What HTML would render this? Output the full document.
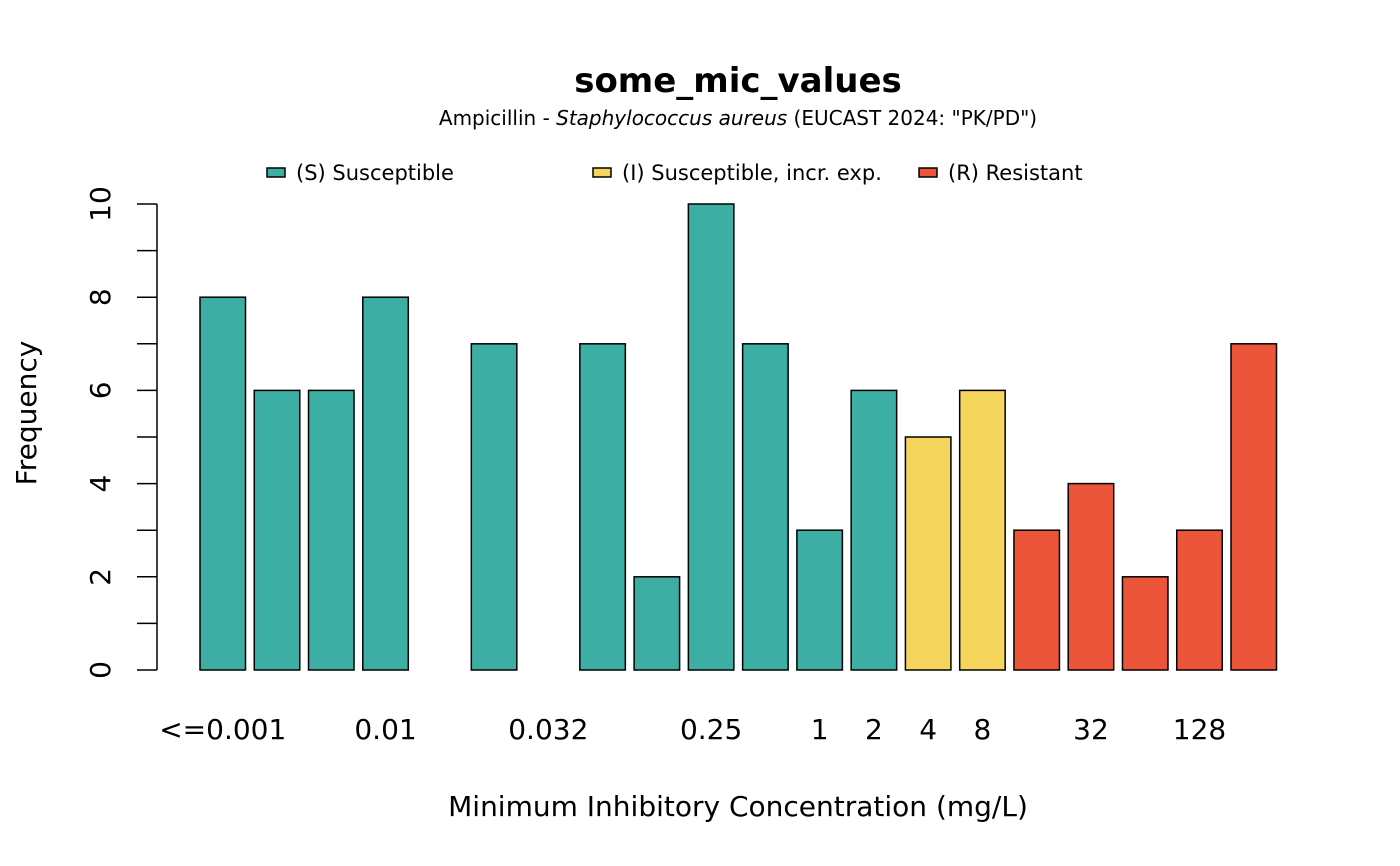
<!DOCTYPE html>
<html><head><meta charset="utf-8"><style>
body{margin:0;background:#fff;}
svg{display:block;font-family:"DejaVu Sans","Liberation Sans",sans-serif;}
</style></head><body>
<svg id="chart" width="1400" height="866" viewBox="0 0 1400 866" xmlns="http://www.w3.org/2000/svg">
<text x="738" y="92" text-anchor="middle" font-size="34" font-weight="bold">some_mic_values</text>
<text x="738" y="125" text-anchor="middle" font-size="20">Ampicillin - <tspan font-style="italic">Staphylococcus aureus</tspan> (EUCAST 2024: "PK/PD")</text>
<g font-size="21">
<g><rect x="267" y="168" width="18" height="9" fill="#3CAEA3" stroke="#000" stroke-width="1.5"/><text x="296" y="180">(S) Susceptible</text></g>
<g><rect x="593" y="168" width="18" height="9" fill="#F6D55C" stroke="#000" stroke-width="1.5"/><text x="622" y="180">(I) Susceptible, incr. exp.</text></g>
<g><rect x="919" y="168" width="18" height="9" fill="#ED553B" stroke="#000" stroke-width="1.5"/><text x="948" y="180">(R) Resistant</text></g>
</g>
<g id="yaxis"></g>
<g id="bars"></g>
<g id="xlabels" font-size="28"></g>
<text transform="translate(36,413) rotate(-90)" text-anchor="middle" font-size="28">Frequency</text>
<text x="738" y="816" text-anchor="middle" font-size="28">Minimum Inhibitory Concentration (mg/L)</text>
</svg>
<script>
const categories = ["<=0.001","0.002","0.005","0.01","0.016","0.025","0.032","0.064","0.125","0.25","0.5","1","2","4","8","16","32","64","128",">=256"];
const labelShown = [1,0,0,1,0,0,1,0,0,1,0,1,1,1,1,0,1,0,1,0];
const counts = [8,6,6,8,0,7,0,7,2,10,7,3,6,5,6,3,4,2,3,7];
const interp = ["S","S","S","S","S","S","S","S","S","S","S","S","S","I","I","R","R","R","R","R"];
const yTicks = [0,1,2,3,4,5,6,7,8,9,10];
const yTickLabels = ["0","","2","","4","","6","","8","","10"];
const colors = {S:"#3CAEA3", I:"#F6D55C", R:"#ED553B"};
const NS = "http://www.w3.org/2000/svg";
const y = v => 670 - v * 46.6;
const step = (1231 - 200) / 19;
const x = i => 200 + i * step;
const bw = 45.5;
const bars = document.getElementById("bars");
counts.forEach((v, i) => {
  const r = document.createElementNS(NS, "rect");
  
  
  r.setAttribute("x", x(i)); r.setAttribute("y", y(v));
  r.setAttribute("width", bw); r.setAttribute("height", Math.max(0, 670 - y(v)));
  r.setAttribute("fill", colors[interp[i]]); r.setAttribute("stroke", "#000"); r.setAttribute("stroke-width", "1.5");
  bars.appendChild(r);
});
const xl = document.getElementById("xlabels");
categories.forEach((c, i) => {
  if (!labelShown[i]) return;
  const t = document.createElementNS(NS, "text");
  
  
  t.setAttribute("x", x(i) + bw / 2); t.setAttribute("y", 739);
  t.setAttribute("text-anchor", "middle");
  t.textContent = c;
  xl.appendChild(t);
});
const ya = document.getElementById("yaxis");
const ax = document.createElementNS(NS, "line");


ax.setAttribute("x1", 157); ax.setAttribute("x2", 157);
ax.setAttribute("y1", y(yTicks[0])); ax.setAttribute("y2", y(yTicks[yTicks.length - 1]));
ax.setAttribute("stroke", "#000"); ax.setAttribute("stroke-width", "1.5");
ya.appendChild(ax);
yTicks.forEach((v, i) => {
  const l = document.createElementNS(NS, "line");
  
  
  l.setAttribute("x1", 137); l.setAttribute("x2", 157);
  l.setAttribute("y1", y(v)); l.setAttribute("y2", y(v));
  l.setAttribute("stroke", "#000"); l.setAttribute("stroke-width", "1.5");
  ya.appendChild(l);
  if (yTickLabels[i]) {
    const t = document.createElementNS(NS, "text");
    
    
    t.setAttribute("transform", "translate(110," + y(v) + ") rotate(-90)");
    t.setAttribute("text-anchor", "middle");
    t.setAttribute("font-size", "28");
    t.textContent = yTickLabels[i];
    ya.appendChild(t);
  }
});
</script>
</body></html>
